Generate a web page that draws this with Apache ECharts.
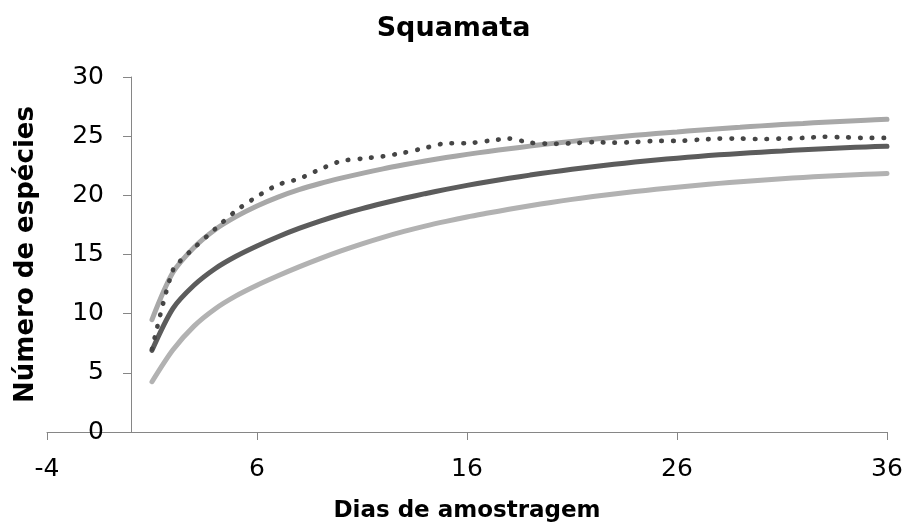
<!DOCTYPE html>
<html>
<head>
<meta charset="utf-8">
<script src="https://cdn.jsdelivr.net/npm/echarts@6/dist/echarts.min.js"></script>
<style>
  html, body { margin: 0; padding: 0; background: #fff; }
  #chart { width: 907px; height: 528px; }
</style>
</head>
<body>
<div id="chart"></div>
<script>
var days = [1, 2, 3, 4, 5, 6, 7, 8, 9, 10, 11, 12, 13, 14, 15, 16, 17, 18,
            19, 20, 21, 22, 23, 24, 25, 26, 27, 28, 29, 30, 31, 32, 33, 34, 35, 36];

// observed curve (dotted)
var observed = [7.0, 13.7, 15.55, 17.15, 18.7, 19.9, 20.9, 21.4, 22.2, 22.9, 23.1, 23.3,
                23.6, 24.0, 24.4, 24.4, 24.6, 24.8, 24.45, 24.35, 24.4, 24.5, 24.45, 24.5,
                24.6, 24.6, 24.7, 24.8, 24.8, 24.75, 24.8, 24.85, 24.95, 24.9, 24.85, 24.85];

var upper = [9.5, 13.5, 15.6, 17.1, 18.2, 19.1, 19.85, 20.48, 21.0, 21.45, 21.86, 22.24,
             22.58, 22.9, 23.19, 23.46, 23.71, 23.94, 24.16, 24.37, 24.56, 24.74, 24.91, 25.07,
             25.22, 25.36, 25.5, 25.63, 25.75, 25.87, 25.98, 26.08, 26.18, 26.27, 26.35, 26.43];

var mean = [6.9, 10.45, 12.4, 13.8, 14.85, 15.72, 16.5, 17.2, 17.82, 18.38, 18.88, 19.33,
            19.75, 20.14, 20.5, 20.84, 21.15, 21.44, 21.71, 21.96, 22.2, 22.42, 22.62, 22.81,
            22.98, 23.14, 23.29, 23.42, 23.54, 23.65, 23.75, 23.85, 23.94, 24.02, 24.09, 24.15];

var lower = [4.25, 6.95, 8.95, 10.4, 11.5, 12.4, 13.2, 13.95, 14.65, 15.3, 15.9, 16.45,
             16.95, 17.4, 17.8, 18.17, 18.5, 18.82, 19.12, 19.4, 19.66, 19.9, 20.12, 20.32,
             20.51, 20.69, 20.86, 21.01, 21.15, 21.28, 21.4, 21.51, 21.61, 21.7, 21.78, 21.85];

function pairs(vals) {
  return days.map(function (d, i) { return [d, vals[i]]; });
}

var font = 'DejaVu Sans';
var axisGray = '#868686';

var myChart = echarts.init(document.getElementById('chart'));

// y axis crosses x at 0: x=-4 is at 47px, 21px per day -> 84px to the right
var option = {
  animation: false,
  title: {
    text: 'Squamata',
    left: 'center',
    top: 15,
    padding: 0,
    textStyle: { fontFamily: font, fontSize: 27, fontWeight: 'bold', color: '#000' }
  },
  grid: { left: 47, right: 20, top: 77, bottom: 96, containLabel: false, outerBoundsMode: 'none' },
  xAxis: {
    type: 'value',
    min: -4,
    max: 36,
    interval: 10,
    name: 'Dias de amostragem',
    nameLocation: 'middle',
    nameGap: 68,
    nameTextStyle: { fontFamily: font, fontSize: 23, fontWeight: 'bold', color: '#000' },
    axisLine: { lineStyle: { color: axisGray, width: 1 } },
    axisTick: { length: 8, lineStyle: { color: axisGray } },
    axisLabel: { fontFamily: font, fontSize: 25, color: '#000', margin: 25 },
    splitLine: { show: false }
  },
  yAxis: {
    type: 'value',
    min: 0,
    max: 30,
    interval: 5,
    offset: -84,
    name: 'Número de espécies',
    nameLocation: 'middle',
    nameGap: 92,
    nameTextStyle: { fontFamily: font, fontSize: 26, fontWeight: 'bold', color: '#000' },
    axisLine: { onZero: false, lineStyle: { color: axisGray, width: 1 } },
    axisTick: { length: 8, lineStyle: { color: axisGray } },
    axisLabel: { fontFamily: font, fontSize: 25, color: '#000', margin: 27 },
    splitLine: { show: false }
  },
  series: [
    {
      name: 'upper',
      type: 'line',
      data: pairs(upper),
      showSymbol: false,
      smooth: 0.3,
      lineStyle: { color: '#a8a8a8', width: 5, cap: 'round' }
    },
    {
      name: 'lower',
      type: 'line',
      data: pairs(lower),
      showSymbol: false,
      smooth: 0.3,
      lineStyle: { color: '#b2b2b2', width: 5, cap: 'round' }
    },
    {
      name: 'mean',
      type: 'line',
      data: pairs(mean),
      showSymbol: false,
      smooth: 0.3,
      lineStyle: { color: '#5c5c5c', width: 5, cap: 'round' }
    },
    {
      name: 'observed',
      type: 'line',
      data: pairs(observed),
      showSymbol: false,
      smooth: 0.2,
      lineStyle: { color: '#454545', width: 4.7, type: [0.5, 11.2], cap: 'round' }
    }
  ]
};

myChart.setOption(option);
</script>
</body>
</html>
